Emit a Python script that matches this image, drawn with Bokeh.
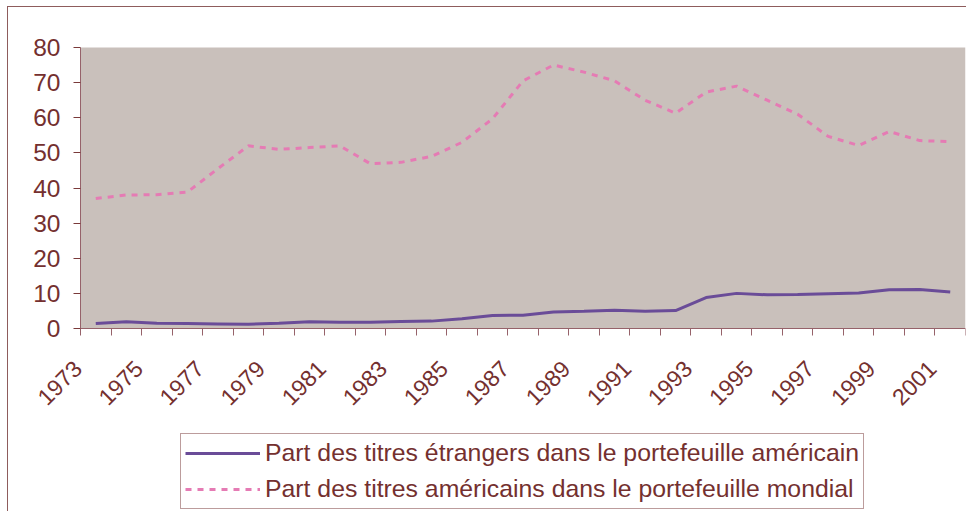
import math
from bokeh.plotting import figure
from bokeh.models import Range1d, FixedTicker, Legend, LegendItem, LinearAxis, BoxAnnotation
from bokeh.embed import file_html
from bokeh.resources import INLINE

years = list(range(1973, 2002))
part_etrangers = [1.4, 1.9, 1.5, 1.4, 1.3, 1.2, 1.5, 1.9, 1.8, 1.8,
                  2.0, 2.1, 2.8, 3.7, 3.8, 4.7, 4.9, 5.2, 4.9, 5.1,
                  8.8, 10.0, 9.6, 9.7, 9.9, 10.1, 11.0, 11.1, 10.4]
part_americains = [37.0, 38.0, 38.1, 38.8, 45.5, 52.0, 51.0, 51.5, 52.0, 46.9,
                   47.3, 49.0, 53.0, 59.7, 70.5, 75.0, 73.0, 70.5, 65.0, 61.3,
                   67.3, 69.0, 65.0, 61.0, 54.7, 52.1, 56.1, 53.5, 53.2]
y_ticks = [0, 10, 20, 30, 40, 50, 60, 70, 80]
label_years = years[::2]
series_labels = ["Part des titres étrangers dans le portefeuille américain",
                 "Part des titres américains dans le portefeuille mondial"]

TEXT = "#74302F"
GRID = "#7A3A3A"
AXIS = "#96626A"
FONT = "Liberation Sans"

# Layout (pixels): plot area 80..965 x 47..328; frame extended to host labels + legend
PLOT_L, PLOT_R, PLOT_T, PLOT_B = 80, 965, 47, 328
FRAME_T, FRAME_B = 20, 510
y_per_px = (y_ticks[-1] - y_ticks[0]) / (PLOT_B - PLOT_T)
x_per_px = len(years) / (PLOT_R - PLOT_L)
x_lo = years[0] - 0.5
x_hi = years[-1] + 0.5

p = figure(width=966, height=511, output_backend="svg", toolbar_location=None,
           x_range=Range1d(x_lo - PLOT_L * x_per_px, x_hi),
           y_range=Range1d(-(FRAME_B - PLOT_B) * y_per_px,
                           y_ticks[-1] + (PLOT_T - FRAME_T) * y_per_px),
           x_axis_type=None, y_axis_type=None,
           min_border_left=0, min_border_right=1, min_border_top=FRAME_T,
           min_border_bottom=1)
p.styles = {"box-shadow": "inset 7px 6px 0 0 white, inset 8px 7px 0 0 #8E5C5C"}
p.background_fill_color = None
p.border_fill_color = None
p.outline_line_color = None

# plot area background
p.add_layout(BoxAnnotation(left=x_lo, bottom=0, top=80, fill_color="#C9C0BB", fill_alpha=1,
                           line_color=None, level="image"))

# gridlines
p.xgrid.grid_line_color = None
p.ygrid.grid_line_color = GRID
p.ygrid.grid_line_width = 1
p.ygrid.ticker = FixedTicker(ticks=y_ticks)
# hide gridlines left of the plot area
p.add_layout(BoxAnnotation(left=8, left_units="screen", right=x_lo, bottom=-1, top=81,
                           fill_color="white", fill_alpha=1, line_color=None, level="underlay"))

# y axis
yaxis = LinearAxis(fixed_location=x_lo, bounds=(0, 80), ticker=FixedTicker(ticks=y_ticks))
yaxis.axis_line_color = AXIS
yaxis.major_tick_line_color = GRID
yaxis.major_tick_out = 7
yaxis.major_tick_in = 0
yaxis.minor_tick_line_color = None
yaxis.major_label_text_font = FONT
yaxis.major_label_text_font_size = "24.5px"
yaxis.major_label_text_color = TEXT
yaxis.major_label_standoff = 13
p.add_layout(yaxis, "left")

# x axis (category boundaries as tick marks, labels every other year)
shift = 0.6
bounds = [y - 0.5 for y in years] + [years[-1] + 0.5]
xaxis = LinearAxis(fixed_location=0, bounds=(x_lo, x_hi),
                   ticker=FixedTicker(ticks=[y - shift for y in label_years], minor_ticks=bounds),
                   major_label_overrides={y - shift: str(y) for y in label_years})
xaxis.axis_line_color = AXIS
xaxis.major_tick_line_color = None
xaxis.minor_tick_line_color = AXIS
xaxis.minor_tick_out = 7
xaxis.minor_tick_in = 0
xaxis.major_label_orientation = math.pi / 4
xaxis.major_label_text_font = FONT
xaxis.major_label_text_font_size = "23px"
xaxis.major_label_text_color = TEXT
xaxis.major_label_standoff = 29
p.add_layout(xaxis, "below")

r1 = p.line(years, part_etrangers, line_color="#6A4C98", line_width=3)
r2 = p.line(years, part_americains, line_color="#E57BB4", line_width=3, line_dash="6 6")

legend = Legend(items=[LegendItem(label=series_labels[0], renderers=[r1]),
                       LegendItem(label=series_labels[1], renderers=[r2])],
                location=(180, 1), orientation="vertical")
legend.border_line_color = "#7A3A3A"
legend.border_line_width = 1
legend.background_fill_color = "white"
legend.background_fill_alpha = 1
legend.label_text_font = FONT
legend.label_text_font_size = "24.8px"
legend.label_text_color = TEXT
legend.glyph_width = 75
legend.glyph_height = 30
legend.label_height = 30
legend.spacing = 6
legend.padding = 4
legend.margin = 0
legend.label_standoff = 5
p.add_layout(legend)

open("out.html", "w").write(file_html(p, INLINE))
